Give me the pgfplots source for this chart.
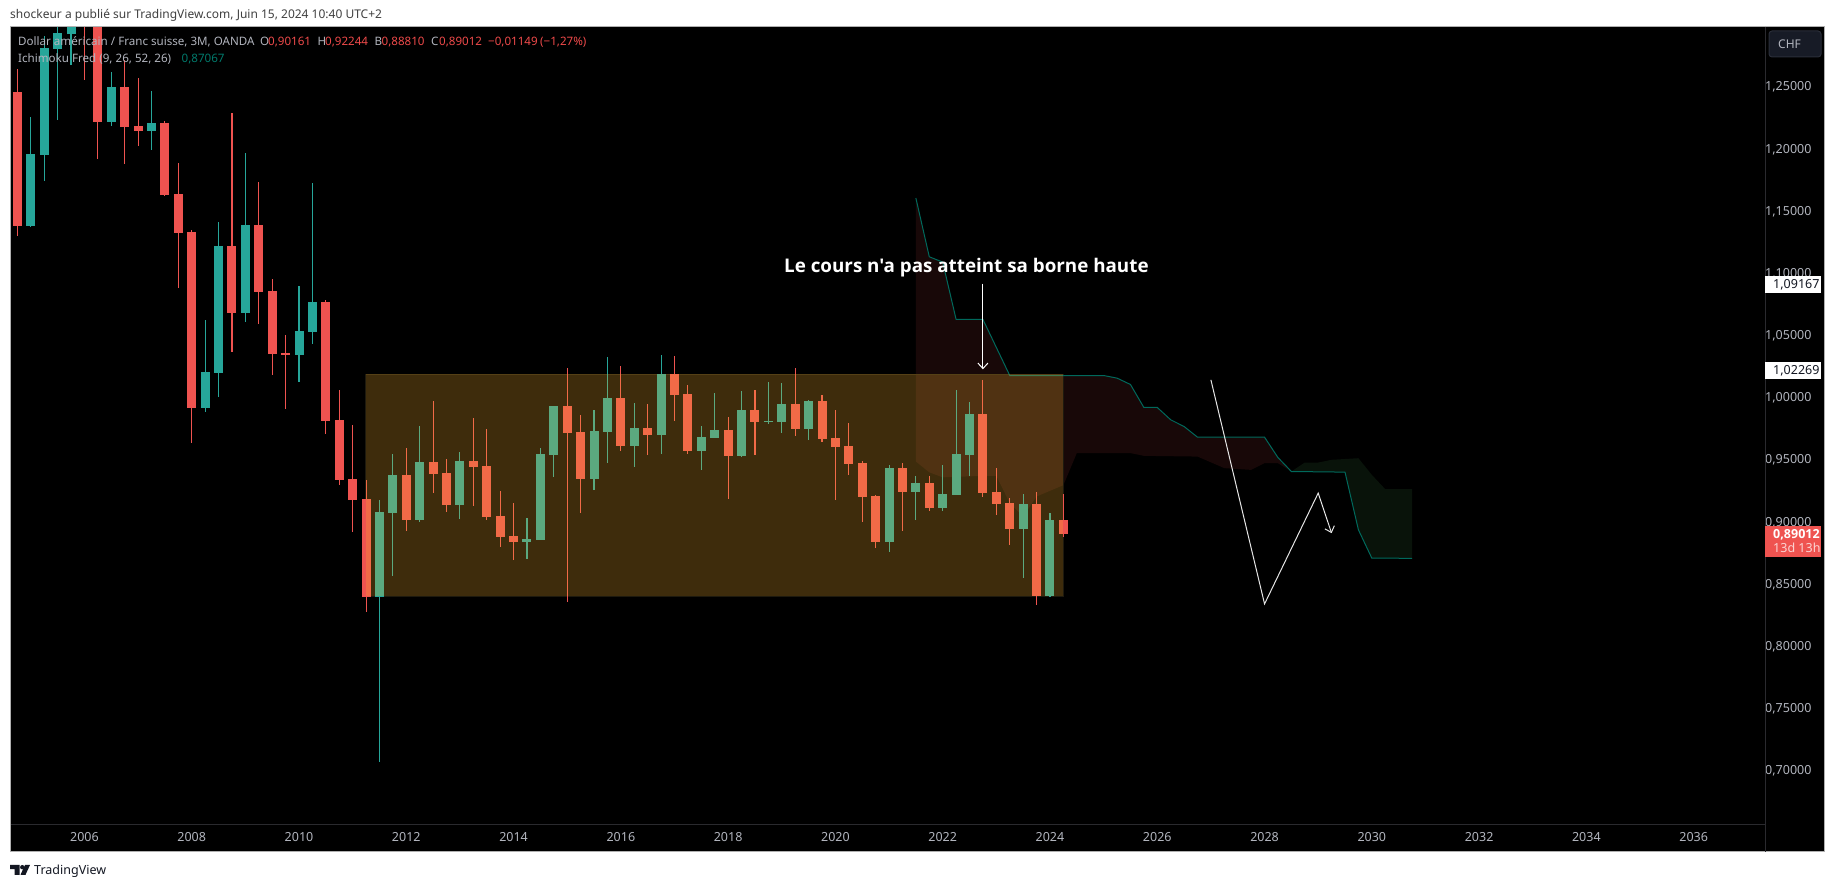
\documentclass[border=0pt]{standalone}
\usepackage{fontspec}
\setmainfont{Noto Sans}
\newfontfamily\annot{Open Sans}
\usepackage{pgfplots}
\usepackage{pgfplotstable}
\pgfplotsset{compat=1.18}
\usetikzlibrary{arrows.meta}
\definecolor{candleR}{HTML}{EF5350}
\definecolor{candleT}{HTML}{26A69A}
\definecolor{boxC}{RGB}{250,178,48}
\definecolor{boxB}{RGB}{30,26,14}
\definecolor{cloudR}{RGB}{24,8,8}
\definecolor{cloudG}{RGB}{9,19,10}
\definecolor{kline}{HTML}{00695C}
\definecolor{ktext}{HTML}{00796B}
\definecolor{lab}{HTML}{B2B5BE}
\definecolor{legR}{HTML}{EF4A4A}
\definecolor{dim}{RGB}{42,42,46}
\definecolor{frameC}{RGB}{176,176,176}
\definecolor{chfF}{HTML}{171B26}
\definecolor{chfB}{HTML}{2A2E39}
\definecolor{ink}{HTML}{131722}
\pgfplotstableread{
x h l t b
2004.75 1.2644 1.1301 1.2459 1.1381
2006 1.3183 1.2556 1.3119 1.3039
2006.25 1.3159 1.1920 1.3079 1.2218
2006.75 1.2717 1.1880 1.2500 1.2178
2007 1.2572 1.2025 1.2186 1.2146
2007.5 1.2226 1.1623 1.2210 1.1631
2007.75 1.1888 1.0883 1.1639 1.1325
2008 1.1349 0.9636 1.1333 0.9917
2008.75 1.2290 1.0368 1.1220 1.0681
2009.25 1.1735 1.0593 1.1389 1.0850
2009.5 1.0955 1.0183 1.0858 1.0352
2009.75 1.0504 0.9909 1.0360 1.0344
2010.5 1.0786 0.9708 1.0770 0.9813
2010.75 1.0062 0.9298 0.9821 0.9338
2011 0.9780 0.8920 0.9346 0.9177
2011.25 0.9338 0.8276 0.9185 0.8397
2012 0.9595 0.8928 0.9378 0.9016
2012.5 0.9973 0.9233 0.9483 0.9386
2012.75 0.9507 0.9080 0.9394 0.9137
2013.25 0.9837 0.9129 0.9491 0.9442
2013.5 0.9748 0.9016 0.9451 0.9040
2013.75 0.9249 0.8799 0.9048 0.8879
2014 0.9153 0.8694 0.8887 0.8839
2015 1.0239 0.8356 0.9933 0.9716
2015.25 0.9861 0.9072 0.9724 0.9346
2016 1.0255 0.9571 0.9998 0.9611
2016.5 0.9949 0.9539 0.9756 0.9700
2017 1.0335 0.9813 1.0191 1.0022
2017.25 1.0102 0.9547 1.0030 0.9571
2018 0.9845 0.9185 0.9740 0.9531
2018.5 1.0062 0.9539 0.9901 0.9805
2019.25 1.0239 0.9692 0.9949 0.9748
2019.75 1.0022 0.9644 0.9973 0.9668
2020 0.9901 0.9177 0.9676 0.9603
2020.25 0.9796 0.9378 0.9611 0.9467
2020.5 0.9491 0.9000 0.9475 0.9201
2020.75 0.9217 0.8791 0.9209 0.8839
2021.25 0.9475 0.8928 0.9434 0.9241
2021.75 0.9370 0.9088 0.9314 0.9113
2022.75 1.0142 0.9201 0.9869 0.9233
2023 0.9434 0.9056 0.9241 0.9145
2023.25 0.9193 0.8815 0.9153 0.8944
2023.75 0.9241 0.8332 0.9145 0.8405
2024.25 0.92244 0.8881 0.90161 0.89012
}\redtab
\pgfplotstableread{
x h l t b
2005 1.2258 1.1368 1.1961 1.1381
2005.25 1.2910 1.1743 1.2813 1.1953
2005.5 1.3079 1.2234 1.2934 1.2805
2005.75 1.3159 1.2671 1.3039 1.2926
2006.5 1.2620 1.2186 1.2500 1.2218
2007.25 1.2467 1.1993 1.2210 1.2146
2008.25 1.0625 0.9885 1.0207 0.9917
2008.5 1.1414 1.0006 1.1220 1.0199
2009 1.1969 1.0609 1.1389 1.0681
2010 1.0899 1.0126 1.0537 1.0344
2010.25 1.1727 1.0432 1.0770 1.0529
2011.5 0.9177 0.7069 0.9080 0.8397
2011.75 0.9547 0.8566 0.9378 0.9072
2012.25 0.9772 0.9000 0.9483 0.9016
2013 0.9563 0.9024 0.9491 0.9137
2014.25 0.9032 0.8702 0.8863 0.8839
2014.5 0.9595 0.8855 0.9547 0.8855
2014.75 0.9933 0.9362 0.9933 0.9539
2015.5 0.9901 0.9257 0.9732 0.9346
2015.75 1.0327 0.9475 0.9998 0.9724
2016.25 0.9957 0.9442 0.9756 0.9611
2016.75 1.0344 0.9547 1.0191 0.9700
2017.5 0.9772 0.9418 0.9684 0.9571
2017.75 1.0038 0.9676 0.9740 0.9676
2018.25 1.0054 0.9523 0.9901 0.9531
2018.75 1.0126 0.9788 0.9813 0.9805
2019 1.0118 0.9716 0.9949 0.9805
2019.5 0.9981 0.9660 0.9973 0.9748
2021 0.9459 0.8759 0.9434 0.8839
2021.5 0.9370 0.9016 0.9314 0.9241
2022 0.9459 0.9088 0.9225 0.9113
2022.25 1.0062 0.9217 0.9547 0.9217
2022.5 0.9965 0.9370 0.9869 0.9539
2023.5 0.9225 0.8549 0.9145 0.8944
2024 0.9072 0.8397 0.9016 0.8405
}\tealtab
\newcommand{\wicks}[2]{%
 \addplot[forget plot,draw=none,mark=none,error bars/.cd,y dir=both,y explicit,error mark=none,
   error bar style={line width=1.1pt,draw=#2}]
   table[x=x,y expr={(\thisrow{h}+\thisrow{l})/2},y error expr={(\thisrow{h}-\thisrow{l})/2}] {#1};
 \addplot[forget plot,draw=none,mark=none,error bars/.cd,y dir=both,y explicit,error mark=none,
   error bar style={line width=9pt,draw=#2}]
   table[x=x,y expr={(\thisrow{t}+\thisrow{b})/2},y error expr={(\thisrow{t}-\thisrow{b})/2}] {#1};
}
\begin{document}
\begin{tikzpicture}
\begin{scope}[x=1pt,y=-1pt,yshift=888pt]
 \fill[white] (0,0) rectangle (1835,888);
 \fill[black] (10,27) rectangle (1824,852);
\end{scope}
\begin{axis}[
  at={(10pt,63pt)},anchor=south west,scale only axis,width=1755pt,height=798pt,
  xmin=2004.612,xmax=2037.33,ymin=0.6562,ymax=1.298,
  axis background/.style={fill=black},
  axis line style={draw=dim,line width=1pt},
  xtick={2006,2008,...,2036},
  ytick={0.70,0.75,0.80,0.85,0.90,0.95,1.00,1.05,1.10,1.15,1.20,1.25},
  yticklabel pos=right,
  major tick length=0pt,
  tick style={draw=none},
  xticklabel style={/pgf/number format/1000 sep={},/pgf/number format/assume math mode=true,
     text=lab,font=\fontsize{12.5}{13}\selectfont,yshift=-3.5pt},
  yticklabel style={/pgf/number format/fixed,/pgf/number format/fixed zerofill,/pgf/number format/precision=5,
     /pgf/number format/use comma,/pgf/number format/assume math mode=true,
     text=lab,font=\fontsize{12.5}{13}\selectfont,anchor=east,xshift=50pt,yshift=-0.5pt},
]
% Ichimoku cloud, bearish part
\addplot[fill=cloudR,draw=none,forget plot] coordinates {
 (2021.5,1.1604)(2021.75,1.1132)(2022,1.1089)(2022.25,1.0628)(2022.75,1.0628)(2023.25,1.0177)(2025,1.0177)
 (2025.25,1.0156)(2025.5,1.0105)(2025.75,0.9920)(2026,0.9920)(2026.25,0.9821)(2026.5,0.9767)(2026.75,0.9681)
 (2028,0.9681)(2028.25,0.9517)(2028.5,0.9405)
 (2028.25,0.9472)(2028,0.9472)(2027.75,0.9418)(2027.25,0.9432)(2026.75,0.9525)(2025.75,0.9531)(2025.5,0.9553)
 (2024.5,0.9553)(2024.25,0.9295)(2023.75,0.9204)(2023.5,0.9043)(2023.25,0.9150)(2023,0.9370)(2022.75,0.9370)
 (2022,0.9358)(2021.75,0.9398)(2021.5,0.9485)} -- cycle;
% Ichimoku cloud, bullish part
\addplot[fill=cloudG,draw=none,forget plot] coordinates {
 (2028.5,0.9405)(2028.75,0.9477)(2029,0.9477)(2029.25,0.9499)(2029.75,0.9512)(2030,0.9378)(2030.25,0.9263)(2030.75,0.9263)
 (2030.75,0.8707)(2030,0.8708)(2029.75,0.8936)(2029.5,0.9400)} -- cycle;
% rectangle border, under the candles
\addplot[draw=boxB,line width=1pt,forget plot] coordinates {
 (2011.24,0.8402)(2024.25,0.8402)(2024.25,1.0188)(2011.24,1.0188)} -- cycle;
% candles
\wicks{\redtab}{candleR}
\wicks{\tealtab}{candleT}
% cloud edge
\addplot[kline,line width=1pt,forget plot] coordinates {
 (2021.5,1.1604)(2021.75,1.1132)(2022,1.1089)(2022.25,1.0628)(2022.75,1.0628)(2023.25,1.0177)(2025,1.0177)
 (2025.25,1.0156)(2025.5,1.0105)(2025.75,0.9920)(2026,0.9920)(2026.25,0.9821)(2026.5,0.9767)(2026.75,0.9681)
 (2028,0.9681)(2028.25,0.9517)(2028.5,0.9405)(2029.5,0.9400)(2029.75,0.8936)(2030,0.8708)(2030.75,0.8707)};
% rectangle drawn on the chart
\addplot[fill=boxC,fill opacity=0.25,draw=none,forget plot] coordinates {
 (2011.24,0.8402)(2024.24,0.8402)(2024.24,1.0188)(2011.24,1.0188)} -- cycle;
% arrows
\addplot[white,line width=1pt,forget plot,-{Straight Barb[length=5.5pt,width=10pt]}] coordinates {(2022.75,1.09167)(2022.75,1.02269)};
\addplot[white!90!black,line width=1pt,forget plot,-{Straight Barb[length=5.5pt,width=10pt]}] coordinates {(2027,1.0142)(2028,0.8340)(2029,0.9231)(2029.25,0.8909)};
\end{axis}
\begin{scope}[x=1pt,y=-1pt,yshift=888pt]
 \draw[frameC,line width=1pt] (10,27) rectangle (1824,852);
 \draw[dim,line width=1pt] (1765,27) -- (1765,852);
 % header
 \node[anchor=base west,inner sep=0,text=black!75,font=\fontsize{12}{13}\selectfont] at (10,19) {shockeur a publié sur TradingView.com, Juin 15, 2024 10:40 UTC+2};
 % legend
 \begin{scope}[every node/.style={anchor=base west,inner sep=0,font=\fontsize{11.6}{13}\selectfont}]
  \node[text=lab] at (18,46) {Dollar américain / Franc suisse, 3M, OANDA};
  \node[text=lab] at (260,46) {O}; \node[text=legR] at (268,46) {0,90161};
  \node[text=lab] at (317.5,46) {H}; \node[text=legR] at (325,46) {0,92244};
  \node[text=lab] at (374.5,46) {B}; \node[text=legR] at (381.5,46) {0,88810};
  \node[text=lab] at (431,46) {C}; \node[text=legR] at (439,46) {0,89012};
  \node[text=legR] at (488,46) {−0,01149}; \node[text=legR] at (540,46) {(−1,27\%)};
  \node[text=lab] at (18,63) {Ichimoku Fred (9, 26, 52, 26)};
  \node[text=ktext] at (181.5,63) {0,87067};
  \node[text=ink,font=\fontsize{12.5}{14}\selectfont] at (34,875) {TradingView};
 \end{scope}
 % annotation
 \node[anchor=base west,inner sep=0,text=white,font=\annot\fontsize{18.8}{20}\selectfont\bfseries] at (784,272.5) {Le cours n'a pas atteint sa borne haute};
 % price axis
 \draw[chfB,fill=chfF,line width=1pt,rounded corners=3pt] (1769,31) rectangle (1821,57);
 \node[anchor=base west,inner sep=0,text=lab,font=\fontsize{12}{13}\selectfont] at (1778,48.5) {CHF};
 \fill[white] (1765,276) rectangle (1820.7,292.7);
 \node[anchor=base west,inner sep=0,text=ink,font=\fontsize{12.5}{13}\selectfont] at (1773,289) {1,09167};
 \fill[white] (1765,362.3) rectangle (1820.7,378.7);
 \node[anchor=base west,inner sep=0,text=ink,font=\fontsize{12.5}{13}\selectfont] at (1773,375) {1,02269};
 \fill[candleR] (1765,526) rectangle (1820.7,556.7);
 \node[anchor=base west,inner sep=0,text=white,font=\annot\fontsize{12.5}{13}\selectfont\bfseries] at (1773,538.3) {0,89012};
 \node[anchor=base west,inner sep=0,text=white!75!candleR,font=\fontsize{12.5}{13}\selectfont] at (1773,552.3) {13d 13h};
 % logo
 \fill[ink] (10,865) -- (19.5,865) -- (19.5,874.8) -- (14.5,874.8) -- (14.5,869.2) -- (10,869.2) -- cycle;
 \fill[ink] (22.3,867.2) circle (2.2);
 \fill[ink] (25,865) -- (30,865) -- (25.5,874.8) -- (20.5,874.8) -- cycle;
\end{scope}
\end{tikzpicture}
\end{document}
